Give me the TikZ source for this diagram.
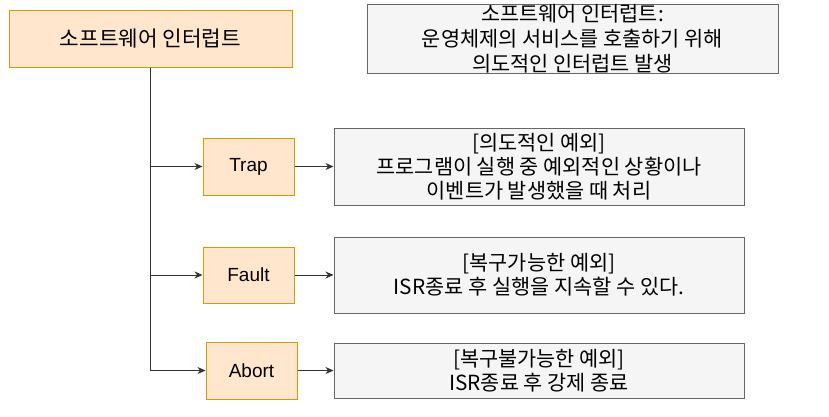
\documentclass[tikz,border=0pt]{standalone}
\usepackage{fontspec}
\setmainfont{Liberation Sans}
\newfontfamily\kr{Noto Sans CJK KR}
\usetikzlibrary{arrows.meta}
\definecolor{orfill}{HTML}{FFE6CC}
\definecolor{orline}{HTML}{D79B00}
\definecolor{grfill}{HTML}{F5F5F5}
\definecolor{grline}{HTML}{666666}
\definecolor{conn}{HTML}{333333}
\tikzset{
  obox/.style={draw=orline, fill=orfill, line width=1pt, inner sep=0pt, align=center,
    font=\fontsize{19}{24}\selectfont},
  gbox/.style={draw=grline, fill=grfill, line width=1pt, inner sep=0pt, align=center,
    font=\kr\fontsize{20.8}{24}\selectfont},
  conline/.style={draw=conn, line width=1pt},
  arr/.style={conline, -{Stealth[length=8pt,width=7pt,inset=2.5pt]}},
}
\begin{document}
\begin{tikzpicture}[x=1pt,y=-1pt]
\useasboundingbox (0,0) rectangle (829,416);
\node[obox, minimum width=283, minimum height=57, font=\kr\fontsize{21.3}{24}\selectfont] (top) at (150.5,38.5) {소프트웨어 인터럽트};
\node[gbox, minimum width=411, minimum height=69, font=\kr\fontsize{20.8}{25}\selectfont] (topnote) at (572.5,38.5) {소프트웨어 인터럽트:\\운영체제의 서비스를 호출하기 위해\\의도적인 인터럽트 발생};
\node[obox, minimum width=91, minimum height=57] (trap) at (248.5,166.5) {Trap};
\node[obox, minimum width=91, minimum height=56] (fault) at (248.5,275) {Fault};
\node[obox, minimum width=91, minimum height=57] (abort) at (251.5,370.5) {Abort};
\node[gbox, minimum width=410, minimum height=77] (trapnote) at (539,166.5) {[의도적인 예외]\\프로그램이 실행 중 예외적인 상황이나\\이벤트가 발생했을 때 처리};
\node[gbox, minimum width=410, minimum height=76] (faultnote) at (539,275) {[복구가능한 예외]\\ISR종료 후 실행을 지속할 수 있다.};
\node[gbox, minimum width=410, minimum height=55] (abortnote) at (539,370.5) {[복구불가능한 예외]\\ISR종료 후 강제 종료};
\draw[arr] (top.south) |- (abort.west);
\draw[arr] (top.south |- trap.west) -- (trap.west);
\draw[arr] (top.south |- fault.west) -- (fault.west);
\draw[arr] (trap.east) -- (trapnote.west |- trap.east);
\draw[arr] (fault.east) -- (faultnote.west |- fault.east);
\draw[arr] (abort.east) -- (abortnote.west |- abort.east);
\end{tikzpicture}
\end{document}
